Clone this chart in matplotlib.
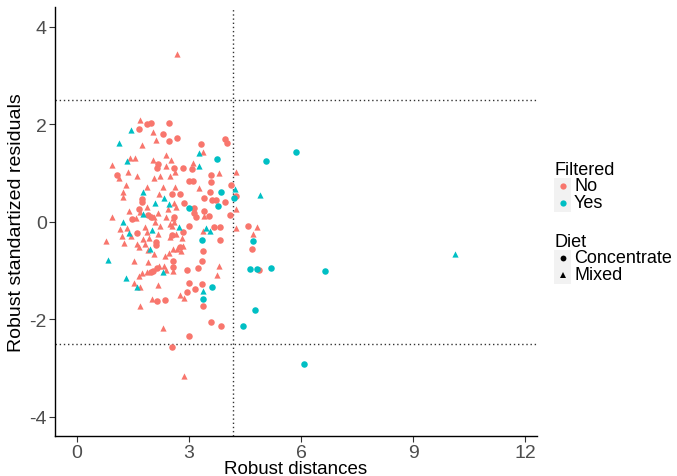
import matplotlib
matplotlib.use("Agg")
import matplotlib.pyplot as plt
from matplotlib.patches import Rectangle
from matplotlib.lines import Line2D

plt.rcParams['font.family'] = ['Liberation Sans', 'DejaVu Sans']

# ---- data ----
# Filtered = No, Diet = Concentrate
no_conc_x = [1.87, 1.99, 2.46, 1.66, 2.30, 2.46, 2.18, 2.13, 2.60, 1.08, 2.67, 3.31, 3.97, 4.01,
             2.83, 3.09, 3.60, 2.99, 3.10, 3.60, 4.12, 4.26, 4.10, 4.59, 4.69, 4.88, 2.54, 2.99,
             2.55, 1.75, 1.75, 1.65, 1.91, 1.46, 1.98, 1.60, 2.54, 2.12, 2.12,
             3.56, 2.77, 3.40, 3.62, 3.72, 3.95, 2.87, 3.13, 3.14, 3.40, 3.54, 3.19, 2.60, 3.01,
             3.83, 2.85, 3.83, 2.76, 3.36, 2.03, 2.15, 1.98, 2.13, 2.36,
             2.58, 2.58, 2.95, 3.25, 2.99, 3.36, 3.17, 2.94, 3.37, 3.58, 3.86, 3.37, 3.66]
no_conc_y = [2.02, 2.03, 2.03, 1.91, 1.80, 1.66, 1.18, 1.10, 1.10, 0.96, 1.73, 1.61, 1.70, 1.63,
             1.11, 1.08, 0.96, 0.84, 0.84, 0.82, 0.75, 0.54, 0.15, -0.08, -0.55, -0.98, -2.56, -2.33,
             0.57, 0.47, 0.42, 0.26, 0.15, 0.07, 0.10, -0.23, -0.26, -0.42, -0.48,
             0.62, 0.57, 0.49, 0.45, 0.45, 0.42, 0.38, 0.29, 0.18, 0.22, 0.13, 0.10, 0.11, -0.08,
             -0.10, -0.21, -0.36, -0.52, -0.80, -1.00, -0.94, -1.02, -1.62, -1.59,
             -0.79, -0.93, -0.98, -0.94, -1.25, -1.27, -1.37, -1.43, -1.72, -2.06, -2.13, -0.60, -0.10]

# Filtered = No, Diet = Mixed
no_mix_x = [2.68, 2.87, 4.26, 4.83, 4.27, 4.72, 4.27,
            1.70, 2.03, 2.12, 1.73, 2.37, 1.42, 1.56, 2.03, 0.95, 2.37, 1.36, 1.61, 1.13, 2.07,
            2.48, 1.30, 1.88, 2.30, 3.38, 2.51, 3.10, 2.63, 3.79, 2.62, 3.27, 2.22,
            1.24, 2.20, 1.87, 2.45, 1.40, 1.69, 2.18, 0.93, 1.57, 2.05, 2.38, 2.58, 2.09, 1.82,
            2.22, 2.54, 1.16, 1.35, 1.87, 1.20, 1.44, 2.16, 1.76, 1.93, 0.78, 1.26, 1.60, 1.82,
            1.67, 1.89, 2.05, 2.47, 2.36, 1.53, 1.91,
            2.60, 2.65, 3.40, 2.60, 2.49, 3.38, 2.64, 2.80, 2.49, 2.85, 2.67, 2.56, 2.79,
            2.20, 2.33, 1.87, 1.73, 2.38, 2.58, 1.66, 1.53, 1.70, 2.16, 2.00, 1.69, 2.30,
            3.79, 3.76, 2.76, 2.87, 1.24]
no_mix_y = [3.45, -3.16, 1.03, -0.10, -0.13, -0.25, 0.27,
            2.09, 1.85, 1.68, 1.57, 1.38, 1.32, 1.32, 1.27, 1.17, 1.14, 1.03, 0.94, 0.90, 0.91,
            0.94, 0.75, 0.72, 0.72, 1.44, 1.27, 1.22, 1.03, 1.01, 0.72, 0.70, 0.95,
            0.52, 0.57, 0.31, 0.26, 0.23, 0.20, 0.18, 0.10, 0.08, 0.10, 0.10, 0.08, 0.01, -0.10,
            -0.08, -0.09, -0.14, -0.12, -0.21, -0.28, -0.29, -0.25, -0.35, -0.33, -0.38, -0.43, -0.45, -0.45,
            -0.52, -0.57, -0.66, -0.64, -0.70, -0.79, -0.83,
            0.39, 0.30, 0.13, 0.01, -0.05, -0.18, -0.25, -0.33, -0.31, -0.50, -0.55, -0.56, -0.59,
            -0.91, -0.91, -1.02, -1.05, -0.98, -1.00, -1.11, -1.25, -1.33, -1.29, -1.57, -1.73, -2.18,
            -0.90, -1.09, -1.50, -1.55, 0.62]

# Filtered = Yes, Diet = Concentrate
yes_conc_x = [5.86, 5.06, 4.20, 4.71, 4.64, 4.81, 5.20, 6.65, 4.77, 4.44, 6.08,
              3.74, 3.86, 3.01, 3.77, 3.36, 3.62, 3.37]
yes_conc_y = [1.44, 1.25, 0.49, -0.38, -0.96, -0.96, -0.94, -1.01, -1.81, -2.13, -2.91,
              1.30, 0.62, 0.29, 0.33, -0.37, -1.33, -1.57]

# Filtered = Yes, Diet = Mixed
yes_mix_x = [4.23, 4.91, 10.12, 1.44, 1.13, 1.33, 3.26, 3.27, 1.78, 2.34, 2.09, 2.46, 1.78,
             1.24, 2.00, 1.38, 1.96, 0.84, 2.73, 3.46, 3.56, 1.31, 1.61, 3.37, 2.31]
yes_mix_y = [0.68, 0.56, -0.66, 1.89, 1.63, 1.25, 1.42, 1.15, 0.62, 0.49, 0.39, 0.37, 0.16,
             0.01, -0.16, -0.23, -0.55, -0.77, -0.11, -0.12, -0.19, -1.15, -1.33, -1.42, -1.03]

cutoff_x = 4.18
cutoff_y = [2.5, -2.5]
x_ticks = [0, 3, 6, 9, 12]
y_ticks = [-4, -2, 0, 2, 4]

filtered_levels = ["No", "Yes"]
diet_levels = ["Concentrate", "Mixed"]
colors = {"No": "#F8766D", "Yes": "#00BFC4"}
markers = {"Concentrate": "o", "Mixed": "^"}

W, H = 677, 477
fig = plt.figure(figsize=(W / 100, H / 100), dpi=100)
ax = fig.add_axes([55 / W, 1 - 437 / H, (537 - 55) / W, (437 - 8) / H])

groups = [
    ("No", "Concentrate", no_conc_x, no_conc_y),
    ("No", "Mixed", no_mix_x, no_mix_y),
    ("Yes", "Concentrate", yes_conc_x, yes_conc_y),
    ("Yes", "Mixed", yes_mix_x, yes_mix_y),
]
for filt, diet, xs, ys in groups:
    s = 22 if diet == "Concentrate" else 20
    ax.scatter(xs, ys, s=s, marker=markers[diet], color=colors[filt],
               linewidths=0, zorder=3)

ax.axvline(cutoff_x, color="#333333", linestyle=(0, (1, 2)), linewidth=1.0, zorder=2)
for yv in cutoff_y:
    ax.axhline(yv, color="#333333", linestyle=(0, (1, 2)), linewidth=1.0, zorder=2)

ax.set_xlim(-0.59, 12.32)
ax.set_ylim(-4.39, 4.41)
ax.set_xticks(x_ticks)
ax.set_yticks(y_ticks)
ax.set_xticklabels([str(t) for t in x_ticks])
ax.set_yticklabels([str(t) for t in y_ticks])
for sp in ["top", "right"]:
    ax.spines[sp].set_visible(False)
for sp in ["left", "bottom"]:
    ax.spines[sp].set_linewidth(1.0)
    ax.spines[sp].set_color("black")
ax.tick_params(axis="both", colors="#333333", labelcolor="#4D4D4D",
               labelsize=14, length=4, width=0.8, pad=2)
ax.set_xlabel("Robust distances", fontsize=13.5, labelpad=-1)
ax.set_ylabel("Robust standartized residuals", fontsize=14, labelpad=3)

# ---- legends (drawn in figure pixel space) ----
lax = fig.add_axes([0, 0, 1, 1], facecolor="none")
lax.set_xlim(0, W)
lax.set_ylim(H, 0)
lax.axis("off")

key = 17
kx = 554
lax.text(kx, 175, "Filtered", fontsize=13, va="baseline", ha="left")
for i, lev in enumerate(filtered_levels):
    cy = 187 + i * key
    lax.add_patch(Rectangle((kx, cy - key / 2), key, key, facecolor="#F2F2F2", edgecolor="none"))
    lax.add_line(Line2D([kx + key / 2], [cy], marker="o", markersize=4.5,
                        color=colors[lev], markeredgewidth=0, linestyle="none"))
    lax.text(kx + key + 3, cy, lev, fontsize=13, va="center", ha="left")

lax.text(kx, 247, "Diet", fontsize=13, va="baseline", ha="left")
for i, lev in enumerate(diet_levels):
    cy = 259 + i * key
    lax.add_patch(Rectangle((kx, cy - key / 2), key, key, facecolor="#F2F2F2", edgecolor="none"))
    lax.add_line(Line2D([kx + key / 2], [cy], marker=markers[lev], markersize=4.2,
                        color="black", markeredgewidth=0, linestyle="none"))
    lax.text(kx + key + 3, cy, lev, fontsize=13, va="center", ha="left")

fig.savefig("out.png", dpi=100)
